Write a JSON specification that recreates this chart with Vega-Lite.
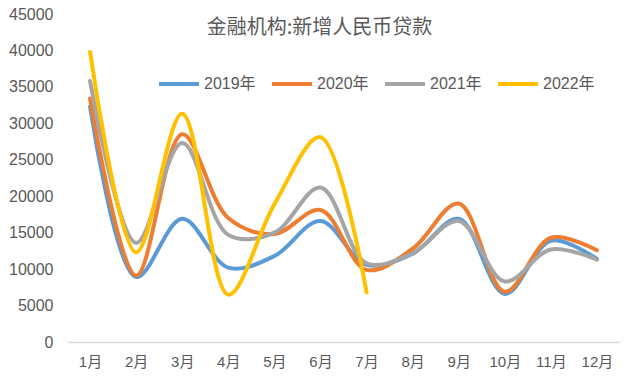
{
  "$schema": "https://vega.github.io/schema/vega-lite/v6.json",
  "width": 553,
  "height": 328,
  "autosize": "none",
  "padding": {"left": 67, "top": 14, "right": 20, "bottom": 48},
  "background": "white",
  "title": {
    "text": "金融机构:新增人民币贷款",
    "anchor": "middle",
    "offset": -32,
    "dx": -24,
    "fontSize": 20,
    "fontWeight": "normal",
    "color": "#595959",
    "font": "Noto Sans CJK SC"
  },
  "config": {
    "view": {"stroke": null},
    "font": "Liberation Sans, Noto Sans CJK SC"
  },
  "data": {
    "values": [
      {"month": "1月", "series": "2019年", "value": 32300},
      {"month": "2月", "series": "2019年", "value": 8900},
      {"month": "3月", "series": "2019年", "value": 16900},
      {"month": "4月", "series": "2019年", "value": 10200},
      {"month": "5月", "series": "2019年", "value": 11800},
      {"month": "6月", "series": "2019年", "value": 16600},
      {"month": "7月", "series": "2019年", "value": 10600},
      {"month": "8月", "series": "2019年", "value": 12100},
      {"month": "9月", "series": "2019年", "value": 16900},
      {"month": "10月", "series": "2019年", "value": 6600},
      {"month": "11月", "series": "2019年", "value": 13900},
      {"month": "12月", "series": "2019年", "value": 11400},
      {"month": "1月", "series": "2020年", "value": 33400},
      {"month": "2月", "series": "2020年", "value": 9100},
      {"month": "3月", "series": "2020年", "value": 28500},
      {"month": "4月", "series": "2020年", "value": 17000},
      {"month": "5月", "series": "2020年", "value": 14800},
      {"month": "6月", "series": "2020年", "value": 18100},
      {"month": "7月", "series": "2020年", "value": 9900},
      {"month": "8月", "series": "2020年", "value": 12800},
      {"month": "9月", "series": "2020年", "value": 19000},
      {"month": "10月", "series": "2020年", "value": 6900},
      {"month": "11月", "series": "2020年", "value": 14300},
      {"month": "12月", "series": "2020年", "value": 12600},
      {"month": "1月", "series": "2021年", "value": 35800},
      {"month": "2月", "series": "2021年", "value": 13600},
      {"month": "3月", "series": "2021年", "value": 27300},
      {"month": "4月", "series": "2021年", "value": 14700},
      {"month": "5月", "series": "2021年", "value": 15000},
      {"month": "6月", "series": "2021年", "value": 21200},
      {"month": "7月", "series": "2021年", "value": 10800},
      {"month": "8月", "series": "2021年", "value": 12200},
      {"month": "9月", "series": "2021年", "value": 16600},
      {"month": "10月", "series": "2021年", "value": 8300},
      {"month": "11月", "series": "2021年", "value": 12700},
      {"month": "12月", "series": "2021年", "value": 11300},
      {"month": "1月", "series": "2022年", "value": 39800},
      {"month": "2月", "series": "2022年", "value": 12300},
      {"month": "3月", "series": "2022年", "value": 31300},
      {"month": "4月", "series": "2022年", "value": 6500},
      {"month": "5月", "series": "2022年", "value": 18900},
      {"month": "6月", "series": "2022年", "value": 28100},
      {"month": "7月", "series": "2022年", "value": 6800}
    ]
  },
  "mark": {"type": "line", "interpolate": "catmull-rom", "strokeWidth": 4, "strokeCap": "round"},
  "encoding": {
    "x": {
      "field": "month",
      "type": "ordinal",
      "sort": ["1月","2月","3月","4月","5月","6月","7月","8月","9月","10月","11月","12月"],
      "scale": {"type": "point", "padding": 0.5},
      "axis": {
        "title": null,
        "labelAngle": 0,
        "labelFontSize": 15,
        "labelColor": "#595959",
        "domainColor": "#D9D9D9",
        "domainWidth": 1.5,
        "ticks": false,
        "labelPadding": 12,
        "grid": false
      }
    },
    "y": {
      "field": "value",
      "type": "quantitative",
      "scale": {"domain": [0, 45000]},
      "axis": {
        "title": null,
        "values": [0,5000,10000,15000,20000,25000,30000,35000,40000,45000],
        "format": "d",
        "labelFontSize": 16,
        "labelColor": "#595959",
        "domain": false,
        "ticks": false,
        "grid": false,
        "labelPadding": 14
      }
    },
    "color": {
      "field": "series",
      "type": "nominal",
      "scale": {
        "domain": ["2019年","2020年","2021年","2022年"],
        "range": ["#5B9BD5","#ED7D31","#A5A5A5","#FFC000"]
      },
      "legend": {
        "orient": "none",
        "legendX": 90,
        "legendY": 48,
        "direction": "horizontal",
        "title": null,
        "symbolType": "stroke",
        "symbolStrokeWidth": 4,
        "symbolSize": 1600,
        "labelFontSize": 16,
        "labelColor": "#595959",
        "columnPadding": 8,
        "labelOffset": 3
      }
    }
  }
}
